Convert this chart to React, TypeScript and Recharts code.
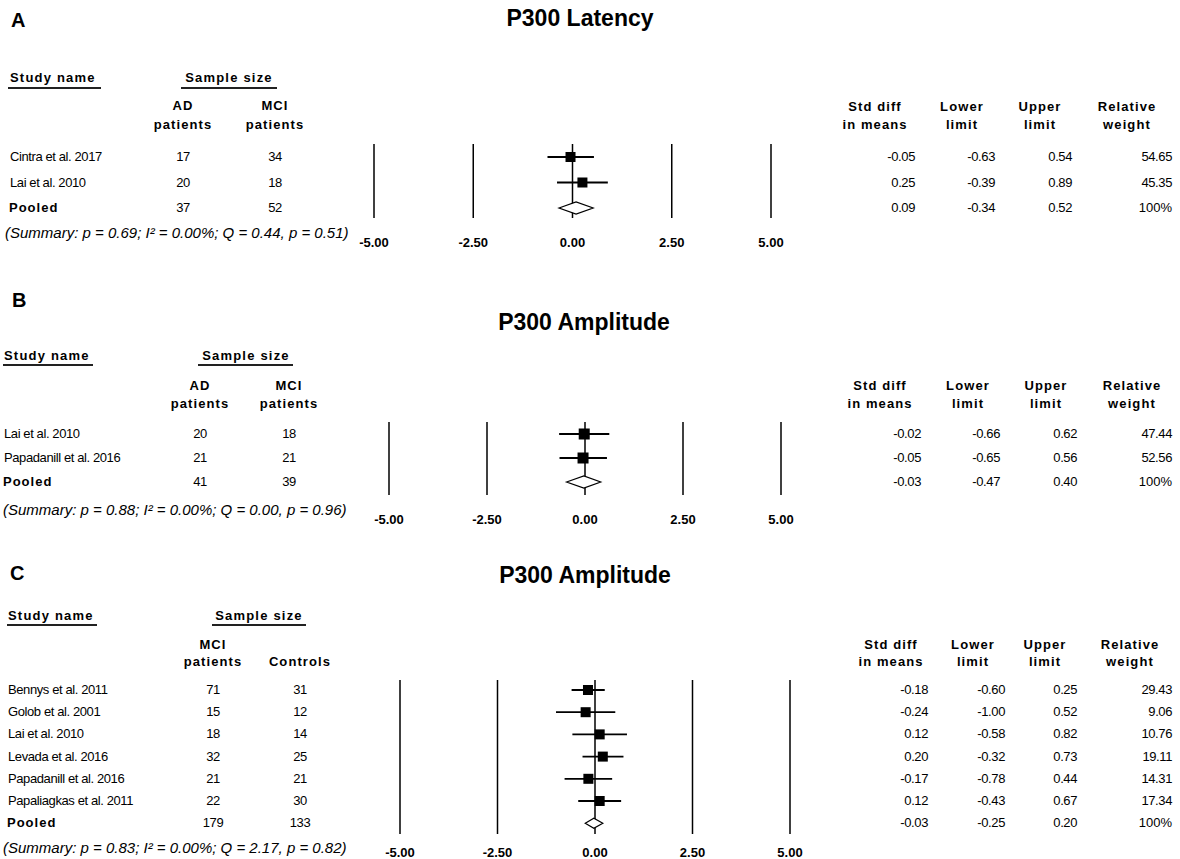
import React from "react";
import { ScatterChart, Scatter, XAxis, YAxis, CartesianGrid, ErrorBar } from "recharts";

const FONT = "'Liberation Sans', Arial, Helvetica, sans-serif";

// A: P300 latency, AD vs MCI
const latencyStudies = ["Cintra et al. 2017", "Lai et al. 2010", "Pooled"];
const latencyAD = [17, 20, 37];
const latencyMCI = [34, 18, 52];
const latencyEffect = [-0.05, 0.25, 0.09];
const latencyLower = [-0.63, -0.39, -0.34];
const latencyUpper = [0.54, 0.89, 0.52];
const latencyWeight = [54.65, 45.35, 100];
const latencySummary = "(Summary: p = 0.69; I² = 0.00%; Q = 0.44, p = 0.51)";

// B: P300 amplitude, AD vs MCI
const ampAdStudies = ["Lai et al. 2010", "Papadanill et al. 2016", "Pooled"];
const ampAdAD = [20, 21, 41];
const ampAdMCI = [18, 21, 39];
const ampAdEffect = [-0.02, -0.05, -0.03];
const ampAdLower = [-0.66, -0.65, -0.47];
const ampAdUpper = [0.62, 0.56, 0.4];
const ampAdWeight = [47.44, 52.56, 100];
const ampAdSummary = "(Summary: p = 0.88; I² = 0.00%; Q = 0.00, p = 0.96)";

// C: P300 amplitude, MCI vs controls
const ampMciStudies = [
  "Bennys et al. 2011",
  "Golob et al. 2001",
  "Lai et al. 2010",
  "Levada et al. 2016",
  "Papadanill et al. 2016",
  "Papaliagkas et al. 2011",
  "Pooled",
];
const ampMciMCI = [71, 15, 18, 32, 21, 22, 179];
const ampMciControls = [31, 12, 14, 25, 21, 30, 133];
const ampMciEffect = [-0.18, -0.24, 0.12, 0.2, -0.17, 0.12, -0.03];
const ampMciLower = [-0.6, -1.0, -0.58, -0.32, -0.78, -0.43, -0.25];
const ampMciUpper = [0.25, 0.52, 0.82, 0.73, 0.44, 0.67, 0.2];
const ampMciWeight = [29.43, 9.06, 10.76, 19.11, 14.31, 17.34, 100];
const ampMciSummary = "(Summary: p = 0.83; I² = 0.00%; Q = 2.17, p = 0.82)";

const axisTicks = [-5, -2.5, 0, 2.5, 5];
const statHeaders = [
  ["Std diff", "in means"],
  ["Lower", "limit"],
  ["Upper", "limit"],
  ["Relative", "weight"],
];

function Txt({ x, y, align = "left", bold = false, italic = false, size = 13, ls = 0, children }: any) {
  const w = 400;
  const h = Math.round(size * 1.4);
  const style: React.CSSProperties = {
    position: "absolute",
    top: y - h / 2,
    height: h,
    lineHeight: h + "px",
    fontSize: size,
    fontWeight: bold ? 700 : 400,
    fontStyle: italic ? "italic" : "normal",
    letterSpacing: ls,
    whiteSpace: "nowrap",
    color: "#000",
    left: align === "left" ? x : align === "center" ? x - w / 2 : x - w,
    width: w,
    textAlign: align,
  };
  return <div style={style}>{children}</div>;
}

function Rule({ x0, x1, y }: any) {
  return <div style={{ position: "absolute", left: x0, top: y, width: x1 - x0, height: 1.5, background: "#222" }} />;
}

function ForestPanel(props: any) {
  const { letter, title, studies, group1, group2, groupHeaders, effect, lower, upper, weight, summary, L } = props;
  const last = studies.length - 1;
  const rowY = (i: number) => L.row0 + i * L.rowStep;

  const rows = studies.slice(0, last).map((_: string, i: number) => ({
    row: i,
    est: effect[i],
    err: [effect[i] - lower[i], upper[i] - effect[i]],
  }));
  const pooled = [{ row: last, est: effect[last], lo: lower[last], hi: upper[last] }];

  const pad = 30;
  const axisH = 40;
  const chartW = L.plotR - L.plotL + 2 * pad;
  const chartH = L.plotB - L.plotT + axisH;
  const pxPerUnit = (L.plotR - L.plotL) / 10;
  const yDomain = [(L.plotT - L.row0) / L.rowStep, (L.plotB - L.row0) / L.rowStep];

  const Square = (p: any) => (
    <rect x={p.cx - L.marker / 2} y={p.cy - L.marker / 2} width={L.marker} height={L.marker} fill="#000" />
  );
  const Diamond = (p: any) => {
    const { cx, cy, payload } = p;
    const l = cx - (payload.est - payload.lo) * pxPerUnit;
    const r = cx + (payload.hi - payload.est) * pxPerUnit;
    const h = L.diamondH / 2;
    return (
      <polygon
        points={`${l},${cy} ${cx},${cy - h} ${r},${cy} ${cx},${cy + h}`}
        fill="#fff"
        stroke="#000"
        strokeWidth={1.2}
      />
    );
  };

  const statCols = [
    effect.map((v: number) => v.toFixed(2)),
    lower.map((v: number) => v.toFixed(2)),
    upper.map((v: number) => v.toFixed(2)),
    weight.map((v: number, i: number) => (i === last ? `${v.toFixed(0)}%` : v.toFixed(2))),
  ];

  return (
    <>
      <Txt x={L.letterX} y={L.letterY} bold size={20}>{letter}</Txt>
      <Txt x={L.titleX} y={L.titleY} align="center" bold size={23}>{title}</Txt>

      <Txt x={L.studyX} y={L.hdrY} bold ls={1.2}>Study name</Txt>
      <Rule x0={L.studyLine[0]} x1={L.studyLine[1]} y={L.lineY} />
      <Txt x={L.sampleX} y={L.hdrY} align="center" bold ls={1.2}>Sample size</Txt>
      <Rule x0={L.sampleLine[0]} x1={L.sampleLine[1]} y={L.lineY} />

      {groupHeaders.map((hdr: string[], c: number) =>
        hdr.map((t, k) => (
          <Txt key={`gh${c}${k}`} x={L.colX[c]} y={L.colHdrY[k]} align="center" bold ls={1.1}>{t}</Txt>
        ))
      )}
      {statHeaders.map((hdr, c) =>
        hdr.map((t, k) => (
          <Txt key={`sh${c}${k}`} x={L.statHdrX[c]} y={L.statHdrY[k]} align="center" bold ls={1.1}>{t}</Txt>
        ))
      )}

      {studies.map((s: string, i: number) => (
        <React.Fragment key={s}>
          {i === last ? (
            <Txt x={L.studyX - 1} y={rowY(i)} bold ls={1}>{s}</Txt>
          ) : (
            <Txt x={L.studyX} y={rowY(i)} ls={-0.4}>{s}</Txt>
          )}
          <Txt x={L.colX[0]} y={rowY(i)} align="center" ls={-0.4}>{group1[i]}</Txt>
          <Txt x={L.colX[1]} y={rowY(i)} align="center" ls={-0.4}>{group2[i]}</Txt>
          {statCols.map((col, c) => (
            <Txt key={c} x={L.statX[c]} y={rowY(i)} align="right" ls={c === 3 && i === last ? 0 : -0.4}>{col[i]}</Txt>
          ))}
        </React.Fragment>
      ))}

      <Txt x={L.summaryX} y={L.summaryY} italic size={15}>{summary}</Txt>

      <div style={{ position: "absolute", left: L.plotL - pad, top: L.plotT }}>
        <ScatterChart width={chartW} height={chartH} margin={{ top: 0, right: pad, bottom: 0, left: pad }}>
          <CartesianGrid horizontal={false} vertical stroke="#000" strokeWidth={1.5} />
          <XAxis
            type="number"
            dataKey="est"
            domain={[-5, 5]}
            ticks={axisTicks}
            interval={0}
            allowDataOverflow
            axisLine={false}
            tickLine={false}
            tickSize={0}
            tickMargin={L.tickCenter - L.plotB - 4.5}
            height={axisH}
            tickFormatter={(v: number) => v.toFixed(2)}
            tick={{ fontSize: 13, fontWeight: 700, fill: "#000", fontFamily: FONT }}
          />
          <YAxis type="number" dataKey="row" domain={yDomain} reversed hide allowDataOverflow />
          <Scatter data={rows} shape={Square} isAnimationActive={false}>
            <ErrorBar dataKey="err" direction="x" width={0} stroke="#000" strokeWidth={1.8} />
          </Scatter>
          <Scatter data={pooled} shape={Diamond} isAnimationActive={false} />
        </ScatterChart>
      </div>
    </>
  );
}

const layoutA = {
  letterX: 11, letterY: 20, titleX: 580, titleY: 18,
  hdrY: 78, studyX: 10, studyLine: [8, 101], lineY: 87, sampleX: 229, sampleLine: [181, 277],
  colX: [183, 275], colHdrY: [106, 125],
  row0: 157, rowStep: 25.5, summaryX: 5, summaryY: 232,
  plotL: 374, plotR: 771, plotT: 144, plotB: 218, tickCenter: 242,
  statHdrX: [875, 962, 1040, 1127], statHdrY: [107, 125], statX: [915, 995, 1072, 1172],
  marker: 10, diamondH: 12,
};

const layoutB = {
  letterX: 12, letterY: 300, titleX: 584, titleY: 322,
  hdrY: 356, studyX: 4, studyLine: [3, 93], lineY: 364, sampleX: 246, sampleLine: [198, 293],
  colX: [200, 289], colHdrY: [386, 404],
  row0: 434, rowStep: 24, summaryX: 3, summaryY: 509,
  plotL: 389, plotR: 781, plotT: 422, plotB: 495, tickCenter: 519,
  statHdrX: [880, 968, 1046, 1132], statHdrY: [386, 404], statX: [921, 1000, 1077, 1172],
  marker: 11, diamondH: 12,
};

const layoutC = {
  letterX: 10, letterY: 573, titleX: 585, titleY: 575,
  hdrY: 616, studyX: 8, studyLine: [7, 97], lineY: 624, sampleX: 259, sampleLine: [212, 306],
  colX: [213, 300], colHdrY: [645, 662],
  row0: 690, rowStep: 22.2, summaryX: 3, summaryY: 847,
  plotL: 400, plotR: 790, plotT: 680, plotB: 834, tickCenter: 852,
  statHdrX: [891, 973, 1045, 1130], statHdrY: [645, 662], statX: [928, 1005, 1077, 1172],
  marker: 10, diamondH: 10,
};

export default function App() {
  return (
    <div
      style={{
        position: "absolute",
        left: 0,
        top: 0,
        width: 1180,
        height: 859,
        background: "#fff",
        overflow: "hidden",
        fontFamily: FONT,
      }}
    >
      <ForestPanel
        letter="A"
        title="P300 Latency"
        studies={latencyStudies}
        group1={latencyAD}
        group2={latencyMCI}
        groupHeaders={[["AD", "patients"], ["MCI", "patients"]]}
        effect={latencyEffect}
        lower={latencyLower}
        upper={latencyUpper}
        weight={latencyWeight}
        summary={latencySummary}
        L={layoutA}
      />
      <ForestPanel
        letter="B"
        title="P300 Amplitude"
        studies={ampAdStudies}
        group1={ampAdAD}
        group2={ampAdMCI}
        groupHeaders={[["AD", "patients"], ["MCI", "patients"]]}
        effect={ampAdEffect}
        lower={ampAdLower}
        upper={ampAdUpper}
        weight={ampAdWeight}
        summary={ampAdSummary}
        L={layoutB}
      />
      <ForestPanel
        letter="C"
        title="P300 Amplitude"
        studies={ampMciStudies}
        group1={ampMciMCI}
        group2={ampMciControls}
        groupHeaders={[["MCI", "patients"], ["", "Controls"]]}
        effect={ampMciEffect}
        lower={ampMciLower}
        upper={ampMciUpper}
        weight={ampMciWeight}
        summary={ampMciSummary}
        L={layoutC}
      />
    </div>
  );
}
